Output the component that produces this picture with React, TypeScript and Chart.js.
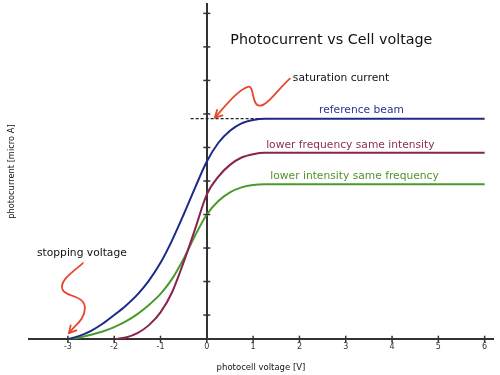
import React, { useEffect, useRef } from 'react';
import { Chart, registerables } from 'chart.js';

Chart.register(...registerables);

// ---- data ----
const xTickValues = [-3, -2, -1, 0, 1, 2, 3, 4, 5, 6];
const yTickValues = [0.72, 1.72, 2.72, 3.72, 4.72, 5.72, 6.72, 7.72, 8.72, 9.72];

const voltageRef = [-3, -2.75, -2.5, -2.25, -2, -1.75, -1.5, -1.25, -1, -0.75, -0.5, -0.25, 0, 0.25, 0.5, 0.75, 1, 1.25, 6];
const currentRef = [0, 0.1, 0.25, 0.46, 0.72, 1.0, 1.33, 1.75, 2.28, 2.95, 3.72, 4.53, 5.3, 5.86, 6.22, 6.44, 6.54, 6.58, 6.58];

const voltageLowFreq = [-2, -1.75, -1.5, -1.25, -1, -0.75, -0.5, -0.25, 0, 0.25, 0.5, 0.75, 1, 1.25, 6];
const currentLowFreq = [0, 0.05, 0.18, 0.42, 0.8, 1.4, 2.3, 3.3, 4.32, 4.85, 5.2, 5.42, 5.52, 5.56, 5.56];

const voltageLowInt = [-3, -2.75, -2.5, -2.25, -2, -1.75, -1.5, -1.25, -1, -0.75, -0.5, -0.25, 0, 0.25, 0.5, 0.75, 1, 1.25, 6];
const currentLowInt = [0, 0.05, 0.13, 0.23, 0.36, 0.53, 0.75, 1.02, 1.35, 1.8, 2.4, 3.1, 3.72, 4.12, 4.38, 4.53, 4.6, 4.62, 4.62];

const saturationVoltage = [-0.35, 1.3];
const saturationCurrent = [6.58, 6.58];

const seriesNames = ['reference beam', 'lower frequency same intensity', 'lower intensity same frequency'];
const seriesLabelX = [3.34, 3.1, 3.19];

const titleText = 'Photocurrent vs Cell voltage';
const xTitle = 'photocell voltage [V]';
const yTitle = 'photocurrent [micro A]';
const satText = 'saturation current';
const stopText = 'stopping voltage';
const stoppingVoltage = -3;

const lineColors = ['#1c2a88', '#8a2350', '#4b9a2c'];
const textColors = ['#2a3592', '#8c2d55', '#4f932d'];
const RED = '#e8462e';
const AXIS = '#333333';
const FONT = '"DejaVu Sans", sans-serif';

const pts = (xs: number[], ys: number[]) => xs.map((v, i) => ({ x: v, y: ys[i] }));

function arrowHead(ctx: CanvasRenderingContext2D, tx: number, ty: number, fx: number, fy: number, len: number) {
  const a = Math.atan2(ty - fy, tx - fx);
  ctx.beginPath();
  ctx.moveTo(tx - len * Math.cos(a - 0.5), ty - len * Math.sin(a - 0.5));
  ctx.lineTo(tx, ty);
  ctx.lineTo(tx - len * Math.cos(a + 0.5), ty - len * Math.sin(a + 0.5));
  ctx.stroke();
}

const decorPlugin = {
  id: 'decor',
  afterDatasetsDraw(chart: any) {
    const { ctx, scales } = chart;
    const xs = scales.x;
    const ys = scales.y;
    const x0 = xs.getPixelForValue(0);
    const y0 = ys.getPixelForValue(0);
    ctx.save();

    // tick marks crossing the axes
    ctx.strokeStyle = AXIS;
    ctx.lineWidth = 1.5;
    xTickValues.forEach((v) => {
      const px = xs.getPixelForValue(v);
      ctx.beginPath();
      ctx.moveTo(px, y0 - 3.5);
      ctx.lineTo(px, y0 + 3.5);
      ctx.stroke();
    });
    yTickValues.forEach((v) => {
      const py = ys.getPixelForValue(v);
      ctx.beginPath();
      ctx.moveTo(x0 - 3.5, py);
      ctx.lineTo(x0 + 3.5, py);
      ctx.stroke();
    });

    // title
    ctx.fillStyle = '#111';
    ctx.textBaseline = 'middle';
    ctx.textAlign = 'center';
    ctx.font = `14.3px ${FONT}`;
    ctx.fillText(titleText, xs.getPixelForValue(2.69), ys.getPixelForValue(8.93));

    // series labels
    ctx.font = `10.7px ${FONT}`;
    const sat = [currentRef, currentLowFreq, currentLowInt];
    seriesNames.forEach((name, i) => {
      const arr = sat[i];
      ctx.fillStyle = textColors[i];
      ctx.fillText(name, xs.getPixelForValue(seriesLabelX[i]), ys.getPixelForValue(arr[arr.length - 1]) - 8);
    });

    // annotations
    ctx.fillStyle = '#111';
    ctx.textAlign = 'left';
    const ax = x0, ay = ys.getPixelForValue(saturationCurrent[0]);
    ctx.fillText(satText, ax + 86, ay - 40);
    const bx = xs.getPixelForValue(stoppingVoltage), by = y0;
    ctx.textAlign = 'center';
    ctx.fillText(stopText, bx + 14, by - 86);

    // y axis title
    ctx.save();
    ctx.translate(12, (chart.chartArea.top + chart.chartArea.bottom) / 2);
    ctx.rotate(-Math.PI / 2);
    ctx.font = `8.3px ${FONT}`;
    ctx.fillStyle = '#111';
    ctx.textAlign = 'center';
    ctx.fillText(yTitle, 0, 0);
    ctx.restore();

    // red arrows
    ctx.strokeStyle = RED;
    ctx.lineWidth = 1.8;
    ctx.lineCap = 'round';
    ctx.lineJoin = 'round';
    // saturation arrow
    ctx.beginPath();
    ctx.moveTo(ax + 83, ay - 40);
    ctx.bezierCurveTo(ax + 70, ay - 28, ax + 60, ay - 12, ax + 52, ay - 13);
    ctx.bezierCurveTo(ax + 45, ay - 14, ax + 47, ay - 33, ax + 42, ay - 32);
    ctx.bezierCurveTo(ax + 32, ay - 30, ax + 18, ay - 12, ax + 8, ay - 1);
    ctx.stroke();
    arrowHead(ctx, ax + 8, ay - 1, ax + 16, ay - 9, 8);
    // stopping arrow
    ctx.beginPath();
    ctx.moveTo(bx + 15, by - 76);
    ctx.bezierCurveTo(bx + 6, by - 68, bx - 10, by - 58, bx - 5, by - 49);
    ctx.bezierCurveTo(bx - 1, by - 42, bx + 17, by - 44, bx + 17, by - 31);
    ctx.bezierCurveTo(bx + 17, by - 20, bx + 7, by - 14, bx + 1, by - 6);
    ctx.stroke();
    arrowHead(ctx, bx + 1, by - 6, bx + 8, by - 14, 8);

    ctx.restore();
  },
};

export default function App() {
  const ref = useRef<HTMLCanvasElement>(null);
  useEffect(() => {
    document.body.style.margin = '0';
    const canvas = ref.current as HTMLCanvasElement;
    const common = { pointRadius: 0, borderWidth: 2, fill: false, cubicInterpolationMode: 'monotone' as const };
    const chart = new Chart(canvas, {
      type: 'line',
      data: {
        datasets: [
          { label: seriesNames[0], data: pts(voltageRef, currentRef), borderColor: lineColors[0], ...common },
          { label: seriesNames[1], data: pts(voltageLowFreq, currentLowFreq), borderColor: lineColors[1], ...common },
          { label: seriesNames[2], data: pts(voltageLowInt, currentLowInt), borderColor: lineColors[2], ...common },
          {
            label: 'saturation',
            data: pts(saturationVoltage, saturationCurrent),
            borderColor: '#222',
            borderWidth: 1.2,
            borderDash: [3, 2],
            pointRadius: 0,
            fill: false,
          },
        ],
      },
      options: {
        animation: false,
        responsive: true,
        maintainAspectRatio: false,
        layout: { padding: { left: 29, right: 7, top: 4, bottom: 0 } },
        plugins: { legend: { display: false }, tooltip: { enabled: false }, title: { display: false } },
        scales: {
          x: {
            type: 'linear',
            min: -3.84,
            max: 6.18,
            position: 'bottom',
            afterBuildTicks: (s: any) => {
              s.ticks = xTickValues.map((v) => ({ value: v }));
            },
            grid: { display: false, drawTicks: false, tickLength: 0 },
            border: { display: true, color: AXIS, width: 2 },
            ticks: {
              padding: 3,
              color: AXIS,
              font: { family: FONT, size: 8 },
              callback: (v: any) => String(v),
            },
            title: {
              display: true,
              text: xTitle,
              color: '#111',
              font: { family: FONT, size: 8.5 },
              padding: { top: 8, bottom: 2 },
            },
          },
          y: {
            type: 'linear',
            min: 0,
            max: 10,
            position: { x: 0 } as any,
            afterBuildTicks: (s: any) => {
              s.ticks = yTickValues.map((v) => ({ value: v }));
            },
            grid: { display: false, drawTicks: false },
            border: { display: true, color: AXIS, width: 2 },
            ticks: { display: false },
          },
        },
      },
      plugins: [decorPlugin],
    });
    return () => chart.destroy();
  }, []);
  return (
    <div style={{ position: 'absolute', left: 0, top: 0, width: 500, height: 375 }}>
      <canvas ref={ref} />
    </div>
  );
}
